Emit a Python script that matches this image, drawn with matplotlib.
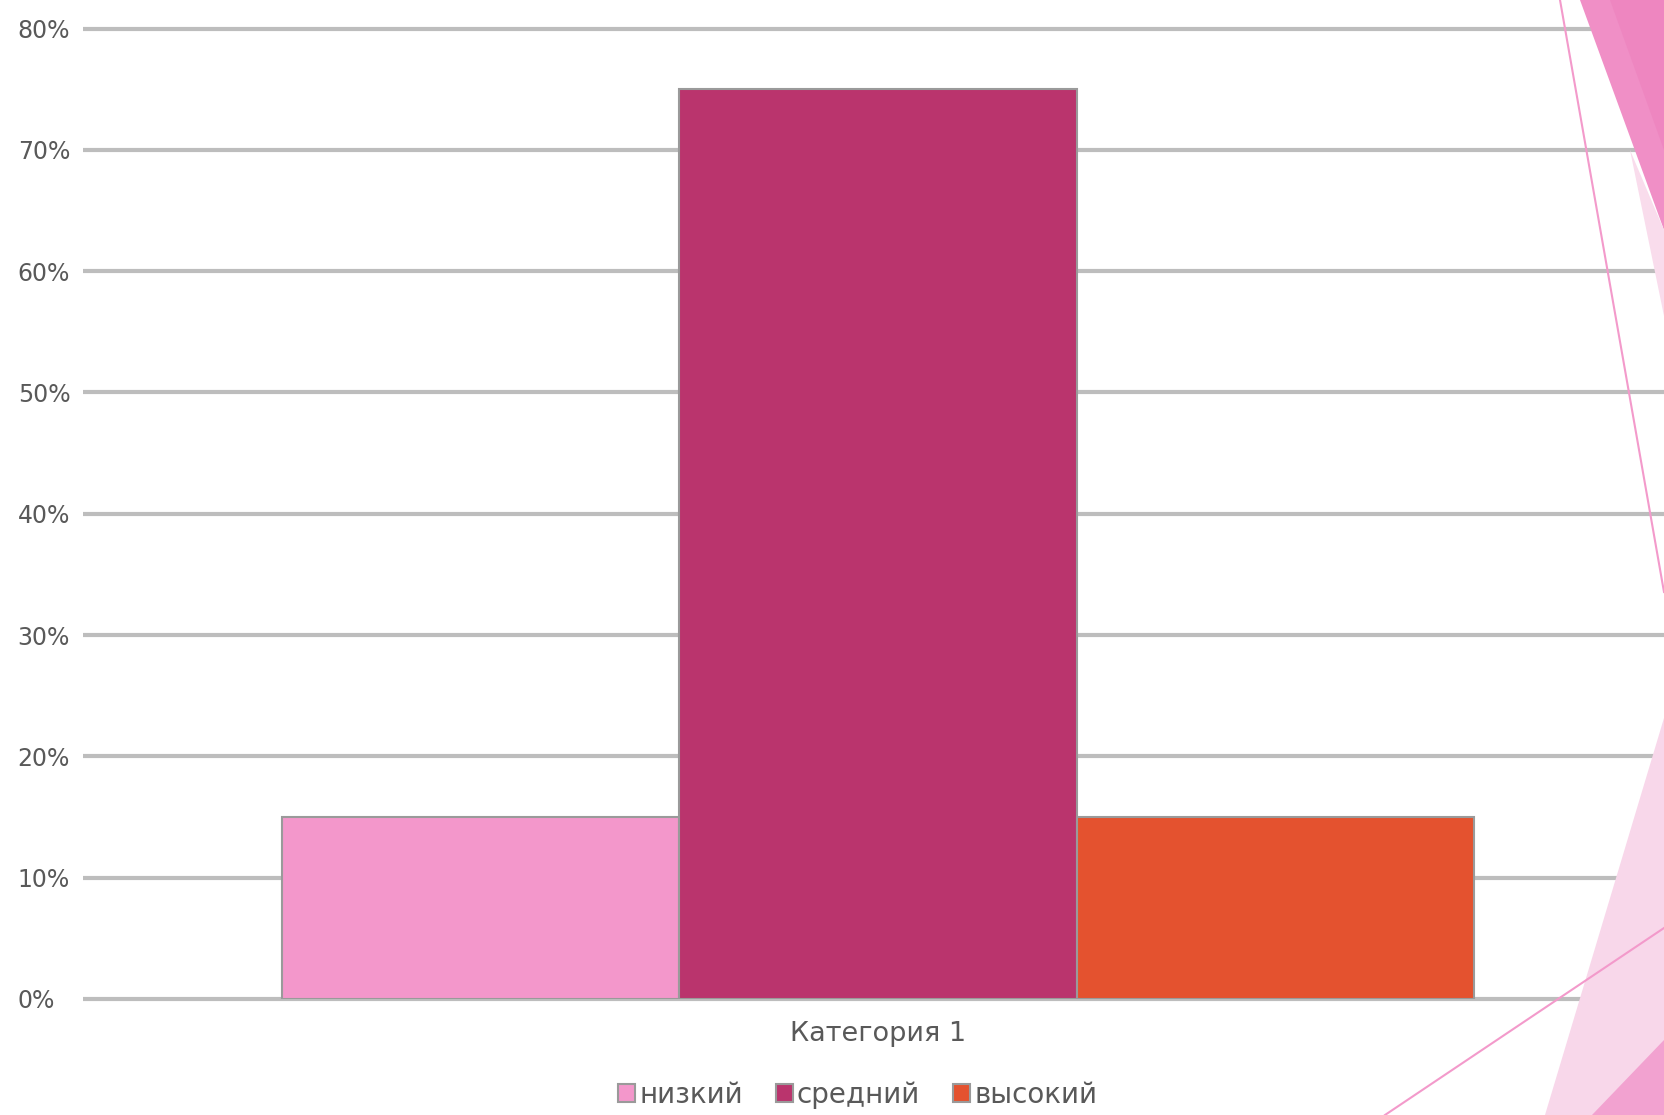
import matplotlib.pyplot as plt
from matplotlib.patches import Polygon
from matplotlib.ticker import PercentFormatter

# chart data
categories = ['Категория 1']
series_names = ['низкий', 'средний', 'высокий']
series_values = [[0.15], [0.75], [0.15]]
series_colors = ['#F397CB', '#BA346D', '#E4522F']

plt.rcParams['font.family'] = ['DejaVu Sans']

fig = plt.figure(figsize=(16.64, 11.15), dpi=100)
W, H = 1664, 1115

# decorative pink shapes at the right side of the slide (pixel coords -> figure coords)
def fig_poly(points, **kw):
    pts = [(x / W, 1 - y / H) for x, y in points]
    fig.patches.append(Polygon(pts, closed=True, transform=fig.transFigure, **kw))

fig_poly([(1580, 0), (1664, 0), (1664, 230)], facecolor='#F08FC6', edgecolor='none', zorder=0)
fig_poly([(1610, 0), (1664, 0), (1664, 150)], facecolor='#EE86C0', edgecolor='none', zorder=0)
fig_poly([(1630, 150), (1664, 230), (1664, 316)], facecolor='#F9DCEC', edgecolor='none', zorder=0)
fig_poly([(1545, 1115), (1664, 718), (1664, 1115)], facecolor='#F8D7EA', edgecolor='none', zorder=0)
fig_poly([(1592, 1115), (1664, 1040), (1664, 1115)], facecolor='#F2A2D0', edgecolor='none', zorder=0)
fig.lines.append(plt.Line2D([1560 / W, 1664 / W], [1, 1 - 592 / H], transform=fig.transFigure,
                            color='#F39ACB', lw=1.5, zorder=0.5))
fig.lines.append(plt.Line2D([1385 / W, 1664 / W], [0, 1 - 928 / H], transform=fig.transFigure,
                            color='#F39ACB', lw=1.5, zorder=0.5))

# plot area
left, right = 83 / W, 1673 / W
bottom, top = 1 - 999 / H, 1 - 28.5 / H
ax = fig.add_axes([left, bottom, right - left, top - bottom])
ax.patch.set_alpha(0)

n = len(series_names)
bar_w = 1.0
for i, (name, vals, col) in enumerate(zip(series_names, series_values, series_colors)):
    offset = (i - (n - 1) / 2) * bar_w
    xs = [c * 4 + offset for c in range(len(categories))]
    ax.bar(xs, vals, width=bar_w, color=col, edgecolor='#9A9A9A', linewidth=1.5,
           label=name, zorder=3)

ax.set_xlim(-2.0, 2.0)
ax.set_ylim(0, 0.8)
ax.set_yticks([i / 10 for i in range(9)])
ax.yaxis.set_major_formatter(PercentFormatter(1.0, decimals=0))
ax.set_xticks([c * 4 for c in range(len(categories))])
ax.set_xticklabels(categories)
ax.grid(axis='y', color='#BDBDBD', linewidth=3, zorder=0)
for gl in ax.get_ygridlines():
    gl.set_clip_on(False)
    gl.set_solid_capstyle('butt')
ax.set_axisbelow(True)
for s in ax.spines.values():
    s.set_visible(False)
ax.tick_params(axis='y', length=0, labelsize=17, colors='#595959', pad=47)
ax.tick_params(axis='x', length=0, labelsize=19.5, colors='#595959', pad=16)
for lab in ax.get_yticklabels():
    lab.set_horizontalalignment('left')

fig.legend(loc='center', bbox_to_anchor=(0.5155, 1 - 1095 / H), ncol=3, frameon=False,
           fontsize=20, labelcolor='#595959', handlelength=0.6, handleheight=0.6,
           handletextpad=0.15, columnspacing=1.2)

fig.savefig('out.png', dpi=100)
